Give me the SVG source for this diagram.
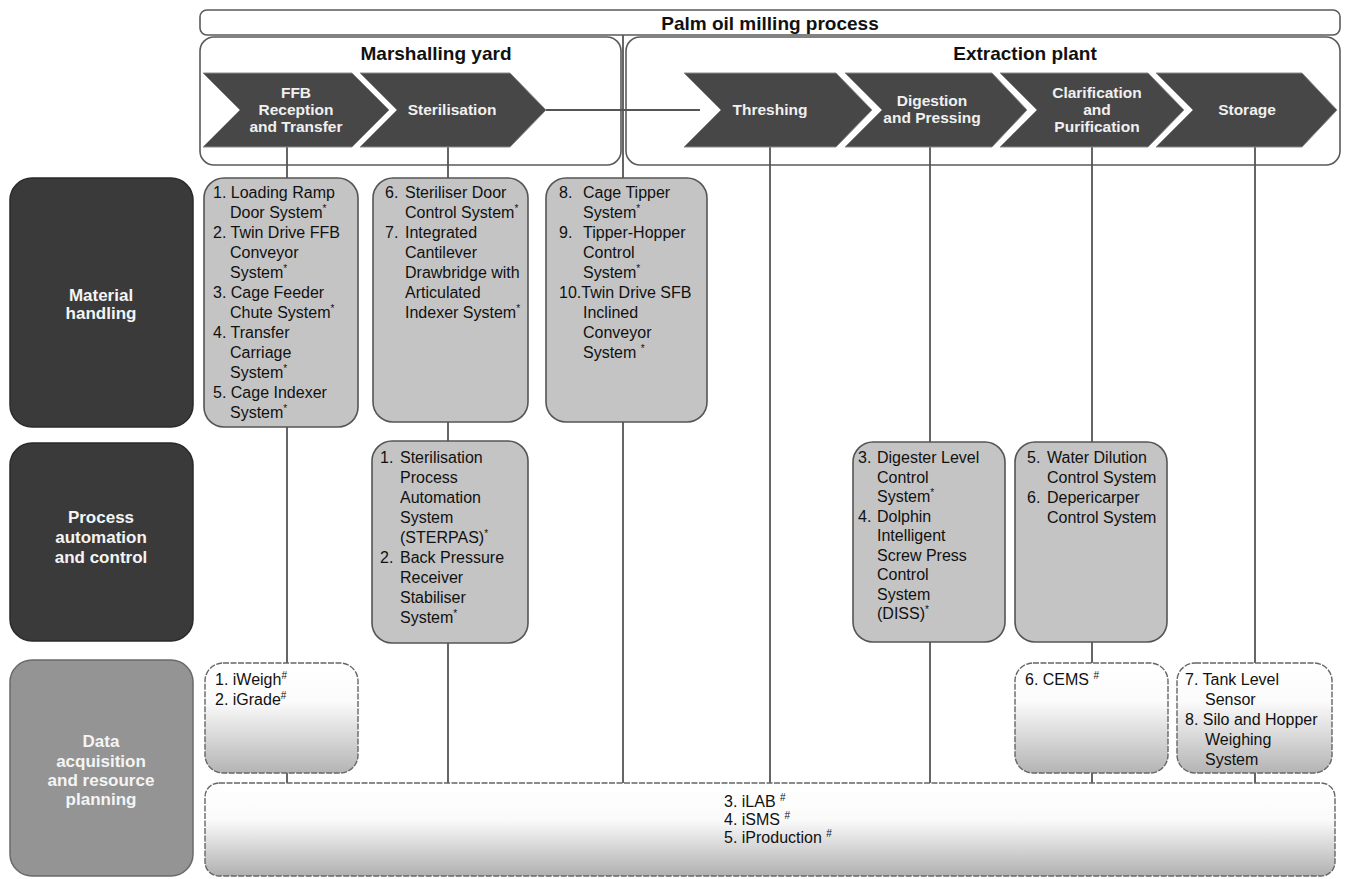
<svg xmlns="http://www.w3.org/2000/svg" width="1345" height="879" viewBox="0 0 1345 879">
<defs>
<linearGradient id="dgrad" x1="0" y1="0" x2="0" y2="1">
<stop offset="0" stop-color="#ffffff"/>
<stop offset="0.35" stop-color="#fbfbfb"/>
<stop offset="1" stop-color="#b4b4b4"/>
</linearGradient>
<linearGradient id="dgradJ" x1="0" y1="0" x2="0" y2="1">
<stop offset="0" stop-color="#ffffff"/>
<stop offset="0.4" stop-color="#fafafa"/>
<stop offset="1" stop-color="#b0b0b0"/>
</linearGradient>
</defs>
<style>
text{font-family:"Liberation Sans",Arial,sans-serif;}
.frame{fill:#ffffff;stroke:#5a5a5a;stroke-width:1.6;}
.title{font-size:19px;font-weight:bold;fill:#111;text-anchor:middle;}
.chev{fill:#474747;stroke:#8a8a8a;stroke-width:1;}
.ct{font-size:15.5px;font-weight:bold;fill:#f0f0f0;text-anchor:middle;}
.cat{fill:#3a3a3a;stroke:#2a2a2a;stroke-width:1.5;}
.catl{fill:#949494;stroke:#6a6a6a;stroke-width:1.5;}
.catt{font-size:17px;font-weight:bold;fill:#f4f4f4;text-anchor:middle;}
.box{fill:#c4c4c4;stroke:#555;stroke-width:1.6;}
.dbox{fill:url(#dgrad);stroke:#666;stroke-width:1.4;stroke-dasharray:6 1.5;}
.bt{font-size:16px;fill:#111;}
.sup{font-size:10px;}
.conn{stroke:#555;stroke-width:1.8;fill:none;}
</style>
<rect width="1345" height="879" fill="#ffffff"/>

<g id="palm-oil-milling-process">
<rect class="frame" x="200" y="10" width="1140" height="25" rx="7"/>
<text class="title" x="770" y="30">Palm oil milling process</text>
</g>

<g id="marshalling-yard">
<rect class="frame" x="200" y="37" width="421" height="128" rx="14"/>
<text class="title" x="436" y="60">Marshalling yard</text>
</g>

<g id="extraction-plant">
<rect class="frame" x="626" y="37" width="714" height="128" rx="14"/>
<text class="title" x="1025" y="60">Extraction plant</text>
</g>

<g id="connectors">
<line class="conn" x1="546" y1="110" x2="700" y2="110"/>
<line class="conn" x1="623" y1="35" x2="623" y2="783"/>
<line class="conn" x1="287" y1="147" x2="287" y2="783"/>
<line class="conn" x1="448" y1="147" x2="448" y2="783"/>
<line class="conn" x1="770" y1="147" x2="770" y2="783"/>
<line class="conn" x1="930" y1="147" x2="930" y2="783"/>
<line class="conn" x1="1092" y1="147" x2="1092" y2="783"/>
<line class="conn" x1="1255" y1="147" x2="1255" y2="783"/>
</g>

<g id="ffb-reception">
<polygon class="chev" points="203,73 352,73 389,110 352,147 203,147 240,110"/>
<text class="ct" x="296" y="98">FFB</text>
<text class="ct" x="296" y="115">Reception</text>
<text class="ct" x="296" y="132">and Transfer</text>
</g>
<g id="sterilisation">
<polygon class="chev" points="360,73 510,73 546,110 510,147 360,147 397,110"/>
<text class="ct" x="452" y="115">Sterilisation</text>
</g>
<g id="threshing">
<polygon class="chev" points="684,73 836,73 872,110 836,147 684,147 721,110"/>
<text class="ct" x="770" y="115">Threshing</text>
</g>
<g id="digestion-pressing">
<polygon class="chev" points="845,73 992,73 1027,110 992,147 845,147 882,110"/>
<text class="ct" x="932" y="106">Digestion</text>
<text class="ct" x="932" y="123">and Pressing</text>
</g>
<g id="clarification-purification">
<polygon class="chev" points="1000,73 1148,73 1184,110 1148,147 1000,147 1037,110"/>
<text class="ct" x="1097" y="98">Clarification</text>
<text class="ct" x="1097" y="115">and</text>
<text class="ct" x="1097" y="132">Purification</text>
</g>
<g id="storage">
<polygon class="chev" points="1156,73 1302,73 1337,110 1302,147 1156,147 1193,110"/>
<text class="ct" x="1247" y="115">Storage</text>
</g>

<g id="material-handling">
<rect class="cat" x="10" y="178" width="183" height="249" rx="22"/>
<text class="catt" x="101" y="301">Material</text>
<text class="catt" x="101" y="319">handling</text>
</g>
<g id="process-automation">
<rect class="cat" x="10" y="443" width="183" height="198" rx="22"/>
<text class="catt" x="101" y="523">Process</text>
<text class="catt" x="101" y="543">automation</text>
<text class="catt" x="101" y="563">and control</text>
</g>
<g id="data-acquisition">
<rect class="catl" x="10" y="660" width="183" height="216" rx="22"/>
<text class="catt" x="101" y="747">Data</text>
<text class="catt" x="101" y="767">acquisition</text>
<text class="catt" x="101" y="786">and resource</text>
<text class="catt" x="101" y="805">planning</text>
</g>

<g id="box-mh-ffb">
<rect class="box" x="204" y="178" width="154" height="249" rx="20"/>
<text class="bt" x="213" y="198">1. Loading Ramp</text>
<text class="bt" x="230" y="218">Door System<tspan class="sup" dy="-6">*</tspan></text>
<text class="bt" x="213" y="238">2. Twin Drive FFB</text>
<text class="bt" x="230" y="258">Conveyor</text>
<text class="bt" x="230" y="278">System<tspan class="sup" dy="-6">*</tspan></text>
<text class="bt" x="213" y="298">3. Cage Feeder</text>
<text class="bt" x="230" y="318">Chute System<tspan class="sup" dy="-6">*</tspan></text>
<text class="bt" x="213" y="338">4. Transfer</text>
<text class="bt" x="230" y="358">Carriage</text>
<text class="bt" x="230" y="378">System<tspan class="sup" dy="-6">*</tspan></text>
<text class="bt" x="213" y="398">5. Cage Indexer</text>
<text class="bt" x="230" y="418">System<tspan class="sup" dy="-6">*</tspan></text>
</g>

<g id="box-mh-sterilisation">
<rect class="box" x="373" y="178" width="155" height="244" rx="20"/>
<text class="bt" x="385" y="198">6.</text>
<text class="bt" x="405" y="198">Steriliser Door</text>
<text class="bt" x="405" y="218">Control System<tspan class="sup" dy="-6">*</tspan></text>
<text class="bt" x="385" y="238">7.</text>
<text class="bt" x="405" y="238">Integrated</text>
<text class="bt" x="405" y="258">Cantilever</text>
<text class="bt" x="405" y="278">Drawbridge with</text>
<text class="bt" x="405" y="298">Articulated</text>
<text class="bt" x="405" y="318">Indexer System<tspan class="sup" dy="-6">*</tspan></text>
</g>

<g id="box-mh-threshing">
<rect class="box" x="546" y="178" width="161" height="244" rx="20"/>
<text class="bt" x="559" y="198">8.</text>
<text class="bt" x="583" y="198">Cage Tipper</text>
<text class="bt" x="583" y="218">System<tspan class="sup" dy="-6">*</tspan></text>
<text class="bt" x="559" y="238">9.</text>
<text class="bt" x="583" y="238">Tipper-Hopper</text>
<text class="bt" x="583" y="258">Control</text>
<text class="bt" x="583" y="278">System<tspan class="sup" dy="-6">*</tspan></text>
<text class="bt" x="559" y="298">10.Twin Drive SFB</text>
<text class="bt" x="583" y="318">Inclined</text>
<text class="bt" x="583" y="338">Conveyor</text>
<text class="bt" x="583" y="358">System <tspan class="sup" dy="-6">*</tspan></text>
</g>

<g id="box-pa-sterilisation">
<rect class="box" x="372" y="441" width="156" height="202" rx="20"/>
<text class="bt" x="380" y="463">1.</text>
<text class="bt" x="400" y="463">Sterilisation</text>
<text class="bt" x="400" y="483">Process</text>
<text class="bt" x="400" y="503">Automation</text>
<text class="bt" x="400" y="523">System</text>
<text class="bt" x="400" y="543">(STERPAS)<tspan class="sup" dy="-6">*</tspan></text>
<text class="bt" x="380" y="563">2.</text>
<text class="bt" x="400" y="563">Back Pressure</text>
<text class="bt" x="400" y="583">Receiver</text>
<text class="bt" x="400" y="603">Stabiliser</text>
<text class="bt" x="400" y="623">System<tspan class="sup" dy="-6">*</tspan></text>
</g>

<g id="box-pa-digestion">
<rect class="box" x="853" y="442" width="152" height="200" rx="20"/>
<text class="bt" x="858" y="463">3.</text>
<text class="bt" x="877" y="463">Digester Level</text>
<text class="bt" x="877" y="483">Control</text>
<text class="bt" x="877" y="502">System<tspan class="sup" dy="-6">*</tspan></text>
<text class="bt" x="858" y="522">4.</text>
<text class="bt" x="877" y="522">Dolphin</text>
<text class="bt" x="877" y="541">Intelligent</text>
<text class="bt" x="877" y="561">Screw Press</text>
<text class="bt" x="877" y="580">Control</text>
<text class="bt" x="877" y="600">System</text>
<text class="bt" x="877" y="619">(DISS)<tspan class="sup" dy="-6">*</tspan></text>
</g>

<g id="box-pa-clarification">
<rect class="box" x="1015" y="442" width="152" height="200" rx="20"/>
<text class="bt" x="1027" y="463">5.</text>
<text class="bt" x="1047" y="463">Water Dilution</text>
<text class="bt" x="1047" y="483">Control System</text>
<text class="bt" x="1027" y="503">6.</text>
<text class="bt" x="1047" y="503">Depericarper</text>
<text class="bt" x="1047" y="523">Control System</text>
</g>

<g id="box-da-ffb">
<rect class="dbox" x="205" y="663" width="153" height="110" rx="18"/>
<text class="bt" x="215" y="685">1. iWeigh<tspan class="sup" dy="-6">#</tspan></text>
<text class="bt" x="215" y="705">2. iGrade<tspan class="sup" dy="-6">#</tspan></text>
</g>

<g id="box-da-clarification">
<rect class="dbox" x="1015" y="663" width="153" height="110" rx="18"/>
<text class="bt" x="1025" y="685">6. CEMS <tspan class="sup" dy="-6">#</tspan></text>
</g>

<g id="box-da-storage">
<rect class="dbox" x="1177" y="663" width="155" height="110" rx="18"/>
<text class="bt" x="1185" y="685">7. Tank Level</text>
<text class="bt" x="1205" y="705">Sensor</text>
<text class="bt" x="1185" y="725">8. Silo and Hopper</text>
<text class="bt" x="1205" y="745">Weighing</text>
<text class="bt" x="1205" y="765">System</text>
</g>

<g id="box-da-plant">
<rect class="dbox" x="205" y="783" width="1130" height="93" rx="14" style="fill:url(#dgradJ)"/>
<text class="bt" x="724" y="807">3. iLAB <tspan class="sup" dy="-6">#</tspan></text>
<text class="bt" x="724" y="825">4. iSMS <tspan class="sup" dy="-6">#</tspan></text>
<text class="bt" x="724" y="843">5. iProduction <tspan class="sup" dy="-6">#</tspan></text>
</g>
</svg>
